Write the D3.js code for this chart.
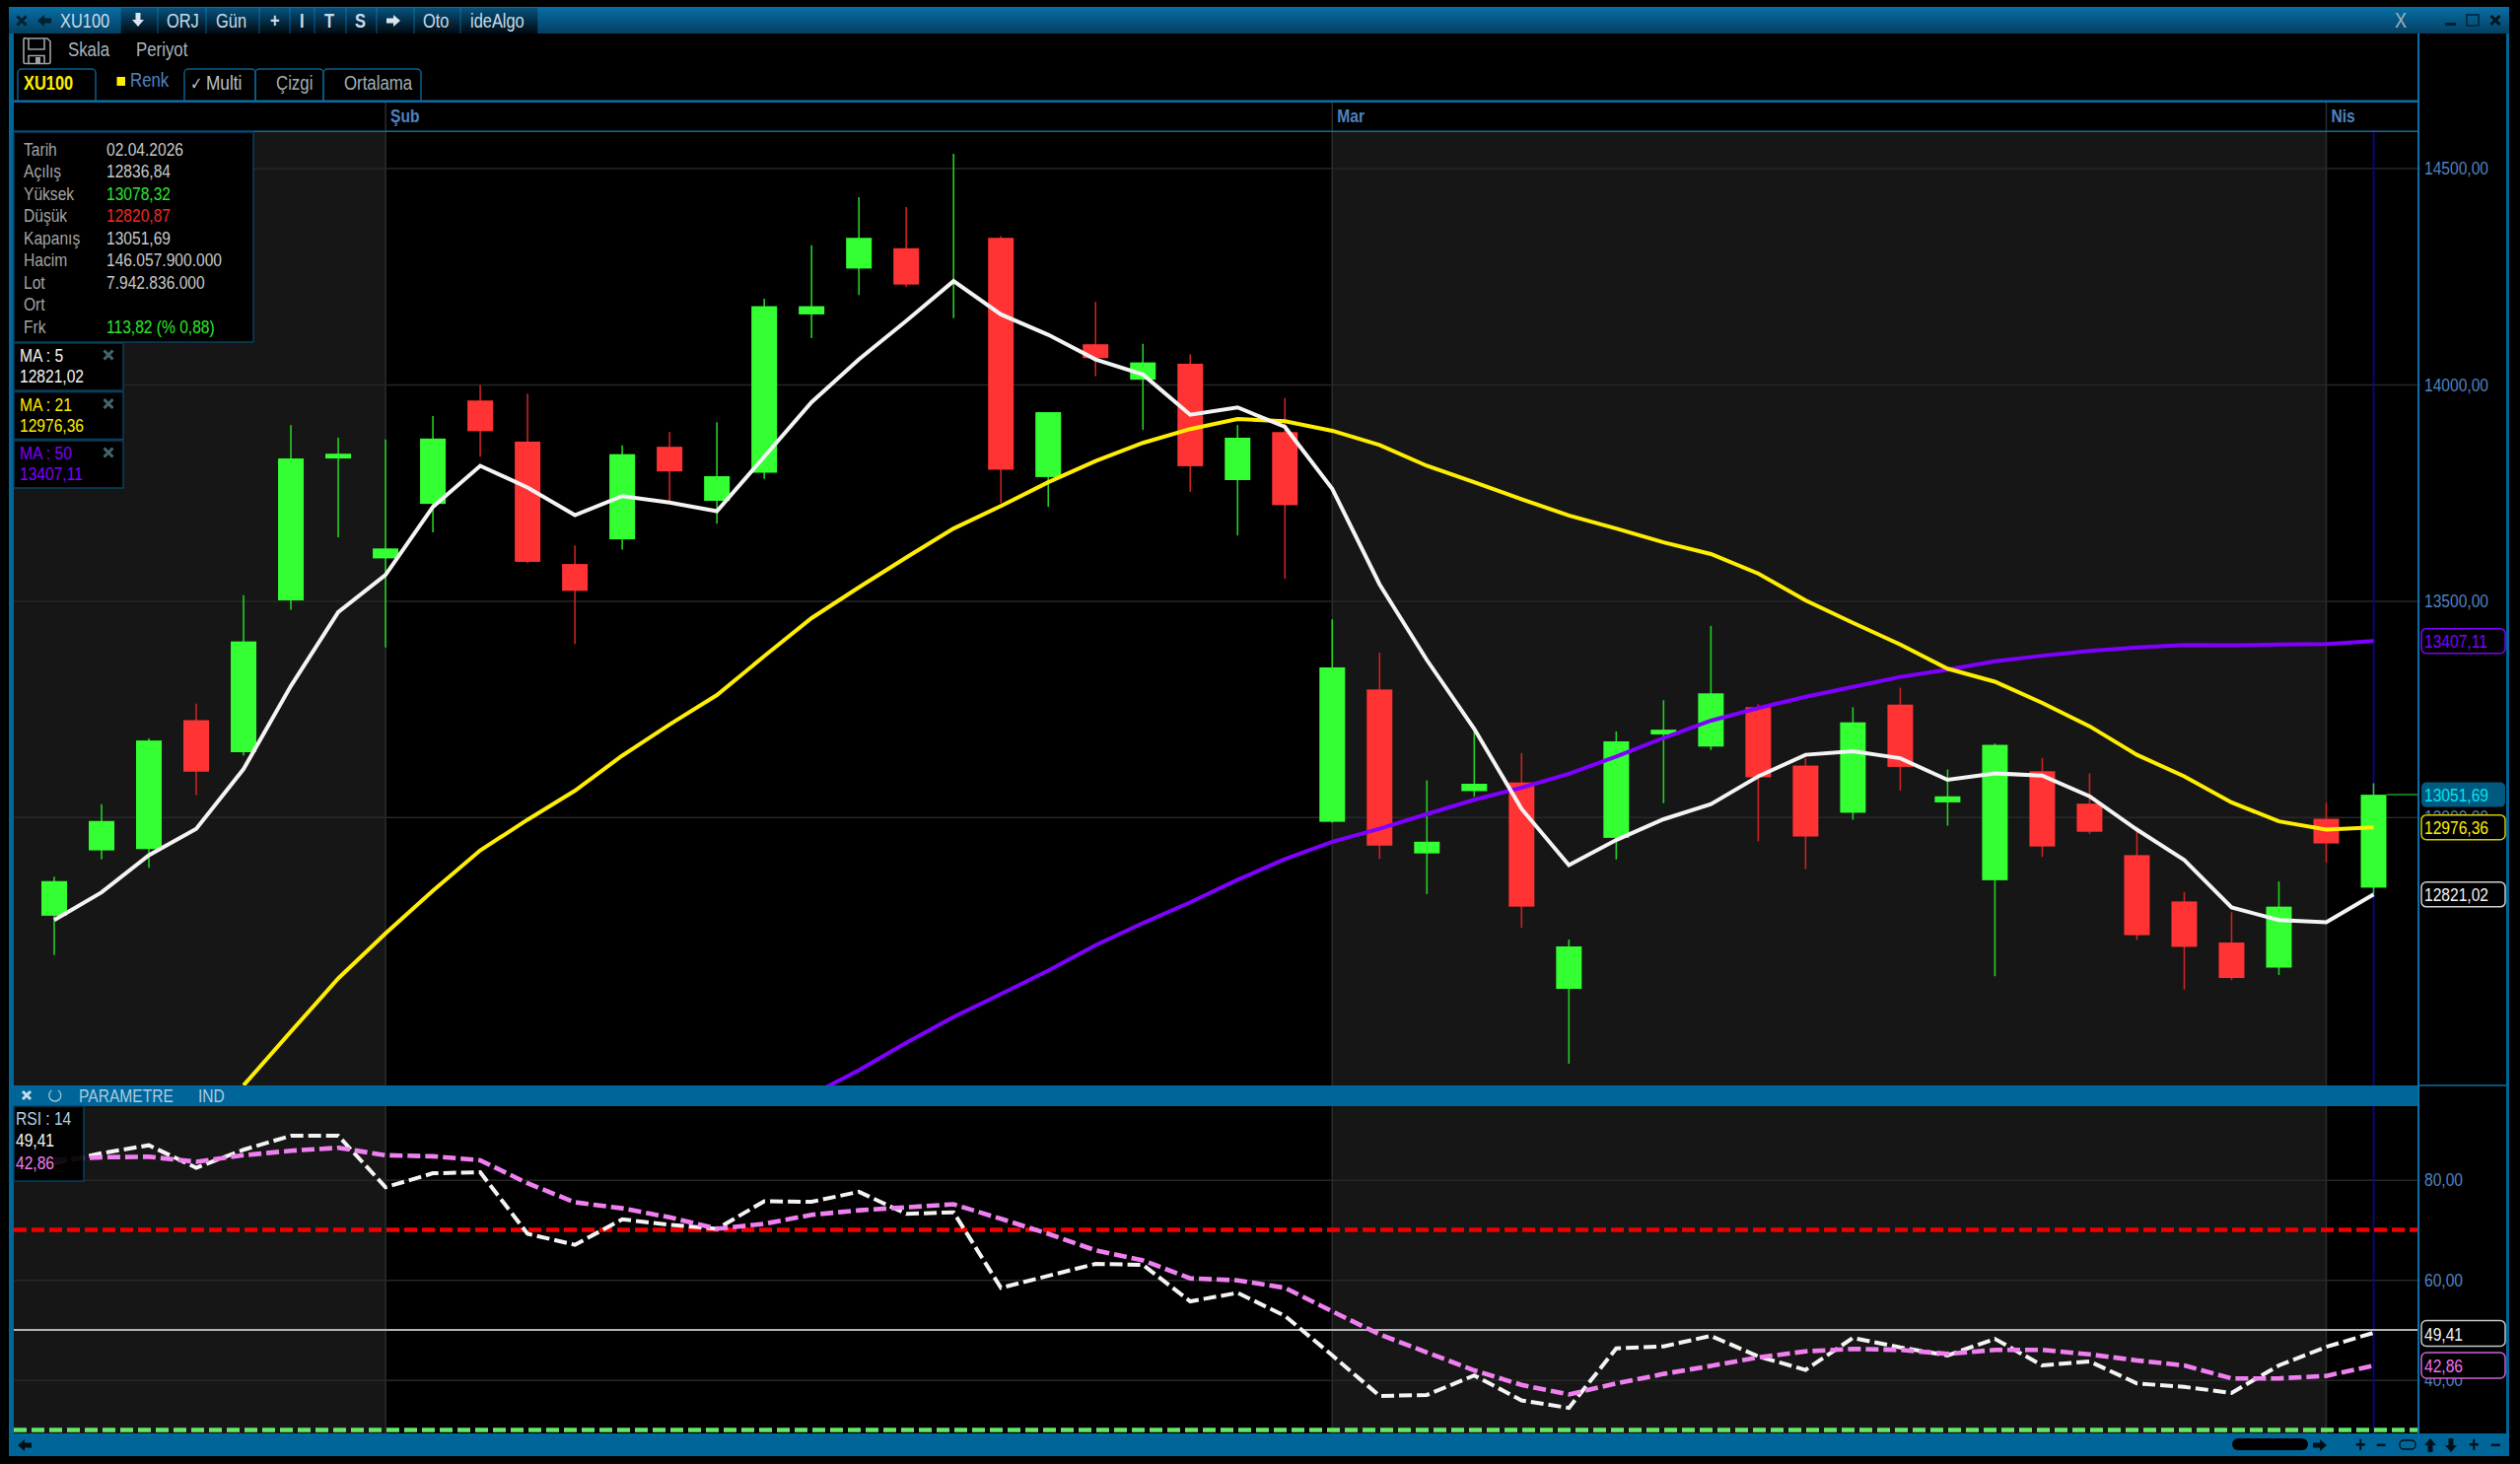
<!DOCTYPE html>
<html>
<head>
<meta charset="utf-8">
<script src="https://d3js.org/d3.v7.min.js"></script>
<style>
  html, body { margin: 0; background: #000; overflow: hidden; }
  svg { display: block; filter: blur(0.45px); }
  text { font-family: "Liberation Sans", sans-serif; font-size: 19px; }
</style>
</head>
<body>
<script>
// Data
const opens  = [12772,12923,12926,13224,13150,13501,13829,13598,13724,13963,13868,13585,13642,13856,13731,13796,14162,14268,14315,14262,14339,13786,14093,14011,14048,13779,13890,12989,13295,12916,13060,13080,12603,12952,13191,13163,13254,13119,13010,13260,13034,12854,13106,13031,12912,12805,12710,12652,12996,12836.84]
const highs  = [12862,13030,13182,13262,13513,13906,13877,13873,13927,13999,13979,13628,13859,13890,13913,14198,14322,14433,14410,14533,14343,13936,14191,14094,14070,13906,13969,13457,13380,13085,13204,13148,12717,13198,13270,13442,13261,13136,13254,13299,13110,13170,13137,13101,12978,12827,12780,12851,13033,13078.32]
const lows   = [12681,12902,12883,13051,13142,13479,13647,13392,13658,13833,13587,13400,13618,13731,13678,13782,14107,14207,14225,14153,13726,13717,14019,13895,13752,13651,13551,12987,12903,12822,13047,12744,12430,12902,13032,13155,12944,12880,12994,13061,12980,12632,12908,12961,12716,12601,12623,12635,12895,12820.87]
const closes = [12852,12991,13177,13105,13406,13829,13840,13621,13875,13892,13590,13523,13839,13799,13788,14181,14181,14339,14231,14262,13803,13936,14061,14051,13811,13877,13721,13346,12934,12943,13077,12793,12701,13175,13202,13286,13092,12955,13219,13116,13048,13167,12932,12966,12727,12700,12628,12793,12939,13051.69]

const ma5  = [12762,12826,12912,12973,13111,13303,13474,13560,13717,13812,13762,13698,13742,13727,13707,13833,13959,14058,14147,14239,14162,14115,14058,14023,13930,13947,13902,13759,13538,13363,13204,13019,12889,12947,12995,13030,13094,13144,13152,13136,13086,13101,13096,13048,12971,12901,12791,12762,12757,12821.02]
// first values of the two long averages are off the bottom of the panel, so they start late
const ma21 = [12380,12504,12627,12731,12830,12923,12994,13061,13142,13214,13282,13372,13460,13531,13600,13667,13719,13774,13823,13865,13897,13920,13915,13893,13860,13812,13774,13735,13697,13667,13635,13608,13563,13501,13449,13399,13343,13313,13264,13210,13144,13094,13034,12990,12971,12976.36]
const ma21Start = 4
const ma50 = [12358,12415,12478,12538,12591,12645,12704,12755,12803,12855,12903,12943,12973,13007,13040,13068,13100,13140,13183,13223,13252,13278,13301,13324,13341,13360,13373,13384,13392,13398,13397,13399,13400,13407.11]
const ma50Start = 16

const rsi       = [83.3,85.3,86.9,82.4,86,88.8,88.8,78.5,81.3,81.5,69.2,67,72.1,71,70.2,75.7,75.6,77.6,73.2,73.5,58.4,60.8,63.2,63,55.7,57.4,52.8,44.9,36.8,37,40.9,35.9,34.4,46.3,46.7,48.8,44.7,42,48.4,46.5,44.9,48.2,42.9,43.7,39.3,38.6,37.4,42.9,46.6,49.41]
const rsiSignal = [84,84.5,84.6,83.6,84.9,85.8,86.4,84.9,84.7,83.9,79.3,75.5,74.3,72.5,70.2,71.2,73,73.9,74.5,75.1,72.2,69.2,65.9,63.9,60.3,59.9,58.4,53.7,49.1,45.5,41.9,39,37.1,39.3,41.2,42.8,44.5,45.7,46.2,46,45.2,46,46,45.1,43.9,42.9,40.3,40.3,40.8,42.86]

const priceTicks = [14500,14000,13500,13000]
const rsiTicks = [80,60,40]
const monthStarts = [7,27,48]
const monthNames = ['Şub','Mar','Nis']

const infoLabels = ['Tarih','Açılış','Yüksek','Düşük','Kapanış','Hacim','Lot','Ort','Frk']
const infoValues = ['02.04.2026','12836,84','13078,32','12820,87','13051,69','146.057.900.000','7.942.836.000','','113,82 (% 0,88)']
const infoColors = ['#c8c8c8','#c8c8c8','#2ee62e','#f02828','#c8c8c8','#c8c8c8','#c8c8c8','#c8c8c8','#2ee62e']

const maNames  = ['MA : 5','MA : 21','MA : 50']
const maValues = [12821.02,12976.36,13407.11]
const maColors = ['#f4f4f4','#ffee00','#8000ff']

const titleButtons = ['ORJ','Gün','+','I','T','S','Oto','ideAlgo']
const titleButtonX = [169,219,274,304,329,360,429,477]
const titleSeps = [122,160,209,263,294,319,351,382,420,467,546]

// Dimensions
const W = 2556, H = 1485
const left = 14, chartRight = 2453, frameRight = 2542
const mainTop = 133, mainBottom = 1101, rsiTop = 1122, rsiBottom = 1454
const blue = '#006598', line = '#0a6ea8', axisBlue = '#4f83c0'

const svg = d3.select('body').append('svg').attr('width', W).attr('height', H)
const defs = svg.append('defs')

const titleGrad = defs.append('linearGradient').attr('id', 'titleGrad').attr('x2', 0).attr('y2', 1)
titleGrad.append('stop').attr('offset', 0).attr('stop-color', '#086fa6')
titleGrad.append('stop').attr('offset', 1).attr('stop-color', '#033f62')
const btnGrad = defs.append('linearGradient').attr('id', 'btnGrad').attr('x2', 0).attr('y2', 1)
btnGrad.append('stop').attr('offset', 0).attr('stop-color', '#06537f')
btnGrad.append('stop').attr('offset', 1).attr('stop-color', '#01090f')

defs.append('clipPath').attr('id', 'mainClip').append('rect')
  .attr('x', left).attr('y', mainTop).attr('width', chartRight - left).attr('height', mainBottom - mainTop)

// Scales
const x = d3.scaleLinear().domain([0, 49]).range([55, 2407.5])
const yPrice = d3.scaleLinear().domain([14500, 13000]).range([170.6, 828.8])
const yRsi = d3.scaleLinear().domain([80, 40]).range([1196.7, 1399.7])

// Frame
svg.append('rect').attr('x', 9).attr('y', 7).attr('width', 2536).attr('height', 1470).attr('fill', blue)
svg.append('rect').attr('x', left).attr('y', 34).attr('width', frameRight - left).attr('height', rsiBottom - 34).attr('fill', '#000')
svg.append('rect').attr('x', 9).attr('y', 7).attr('width', 2536).attr('height', 27).attr('fill', 'url(#titleGrad)')

// Month bands, every second month is grey
const bandEdges = [left, x(monthStarts[0]), x(monthStarts[1]), x(monthStarts[2]), chartRight]
const panels = [[mainTop, mainBottom], [rsiTop, rsiBottom]]
panels.forEach(([t, b]) => {
  svg.append('g').selectAll('rect')
    .data([0, 2])
    .join('rect')
    .attr('x', d => bandEdges[d])
    .attr('width', d => bandEdges[d + 1] - bandEdges[d])
    .attr('y', t)
    .attr('height', b - t)
    .attr('fill', '#161616')
})
svg.append('g').attr('stroke', '#2c2c2c').attr('stroke-width', 1.5)
  .selectAll('line')
  .data(monthStarts)
  .join('line')
  .attr('x1', d => x(d)).attr('x2', d => x(d))
  .attr('y1', 104).attr('y2', rsiBottom)

// Axes
const comma = d3.formatLocale({ decimal: ',', thousands: '.', grouping: [3], currency: ['', ''] }).format('.2f')
function axis(scale, ticks) {
  return g => {
    g.attr('transform', `translate(2455,0)`)
      .call(d3.axisRight(scale).tickValues(ticks).tickFormat(comma).tickSize(-(2455 - left)).tickPadding(4))
    g.select('.domain').remove()
    g.selectAll('.tick line').attr('stroke', '#272727').attr('stroke-width', 1.5)
    g.selectAll('.tick text').attr('fill', axisBlue)
      .style('font-size', '19px').style('font-family', '"Liberation Sans", sans-serif')
  }
}
svg.append('g').call(axis(yPrice, priceTicks))
svg.append('g').call(axis(yRsi, rsiTicks))

// Crosshair
svg.append('line').attr('x1', x(49)).attr('x2', x(49)).attr('y1', mainTop).attr('y2', rsiBottom)
  .attr('stroke', '#0000c8').attr('stroke-width', 1.5)

// Candles
const main = svg.append('g').attr('clip-path', 'url(#mainClip)')
const candles = d3.range(opens.length)
const isUp = i => closes[i] >= opens[i]
main.append('g').attr('stroke-width', 1.6)
  .selectAll('line')
  .data(candles)
  .join('line')
  .attr('x1', i => x(i)).attr('x2', i => x(i))
  .attr('y1', i => yPrice(highs[i])).attr('y2', i => yPrice(lows[i]))
  .attr('stroke', i => isUp(i) ? '#22d022' : '#cc2222')
main.append('g')
  .selectAll('rect')
  .data(candles)
  .join('rect')
  .attr('x', i => x(i) - 13)
  .attr('width', 26)
  .attr('y', i => yPrice(Math.max(opens[i], closes[i])))
  .attr('height', i => Math.abs(yPrice(opens[i]) - yPrice(closes[i])))
  .attr('fill', i => isUp(i) ? '#33ff33' : '#ff3333')

// Last price line
main.append('line').attr('x1', x(49) + 13).attr('x2', chartRight)
  .attr('y1', yPrice(closes[49])).attr('y2', yPrice(closes[49]))
  .attr('stroke', '#1f9a1f').attr('stroke-width', 1.5)

// Moving averages
function series(values, start, y) {
  return d3.line().x((d, i) => x(i + start)).y(d => y(d))(values)
}
main.append('path').attr('d', series(ma50, ma50Start, yPrice)).attr('fill', 'none').attr('stroke', '#8000ff').attr('stroke-width', 4)
main.append('path').attr('d', series(ma21, ma21Start, yPrice)).attr('fill', 'none').attr('stroke', '#ffee00').attr('stroke-width', 4)
main.append('path').attr('d', series(ma5, 0, yPrice)).attr('fill', 'none').attr('stroke', '#f4f4f4').attr('stroke-width', 4)

// RSI
svg.append('line').attr('x1', left).attr('x2', chartRight).attr('y1', yRsi(50)).attr('y2', yRsi(50))
  .attr('stroke', '#b4b4b4').attr('stroke-width', 2)
const levels = [[70, '#f00000'], [30, '#66e866']]
svg.append('g').selectAll('line')
  .data(levels)
  .join('line')
  .attr('x1', left).attr('x2', chartRight)
  .attr('y1', d => yRsi(d[0])).attr('y2', d => yRsi(d[0]))
  .attr('stroke', d => d[1])
  .attr('stroke-width', 4.6)
  .attr('stroke-dasharray', '13 5')
svg.append('path').attr('d', series(rsi, 0, yRsi)).attr('fill', 'none').attr('stroke', '#f4f4f4').attr('stroke-width', 4).attr('stroke-dasharray', '13 5')
svg.append('path').attr('d', series(rsiSignal, 0, yRsi)).attr('fill', 'none').attr('stroke', '#f080f0').attr('stroke-width', 4.6).attr('stroke-dasharray', '13 5')

// Panel lines
svg.append('rect').attr('x', left).attr('y', mainBottom).attr('width', chartRight - left).attr('height', rsiTop - mainBottom).attr('fill', blue)
svg.append('line').attr('x1', chartRight).attr('x2', frameRight).attr('y1', mainBottom).attr('y2', mainBottom).attr('stroke', line).attr('stroke-width', 1.5)
svg.append('line').attr('x1', chartRight).attr('x2', chartRight).attr('y1', 34).attr('y2', rsiBottom).attr('stroke', line).attr('stroke-width', 2)
svg.append('rect').attr('x', left).attr('y', 101.5).attr('width', chartRight - left).attr('height', 2.5).attr('fill', line)
svg.append('rect').attr('x', left).attr('y', 132.5).attr('width', chartRight - left).attr('height', 1.5).attr('fill', line)

// Helpers for the window furniture
const label = (t, px, py, fill, size, weight) => svg.append('text').text(t).attr('x', px).attr('y', py)
  .attr('fill', fill).style('font-size', (size || 19) + 'px').style('font-weight', weight || 'normal')
const arrow = (px, py, rot, fill) => svg.append('path').attr('d', 'M-2.5,-7h5v7h3.5l-6,7l-6,-7h3.5z')
  .attr('transform', `translate(${px},${py}) rotate(${rot})`).attr('fill', fill)
const cross = (px, py, r, col) => svg.append('path').attr('d', `M${px - r},${py - r}L${px + r},${py + r}M${px - r},${py + r}L${px + r},${py - r}`)
  .attr('stroke', col).attr('stroke-width', 3).attr('fill', 'none')

// Title bar
svg.append('g').selectAll('rect')
  .data(titleSeps.slice(0, -1))
  .join('rect')
  .attr('x', d => d + 0.7)
  .attr('width', (d, i) => titleSeps[i + 1] - d - 1.4)
  .attr('y', 8).attr('height', 26)
  .attr('fill', 'url(#btnGrad)')
cross(22, 21, 4.5, '#02202f')
arrow(45, 21, 90, '#02202f')
label('XU100', 61, 28, '#c9dcea', 20)
arrow(140, 20, 0, '#d8e4ee')
arrow(399, 21, -90, '#d8e4ee')
svg.append('g').selectAll('text')
  .data(titleButtons)
  .join('text')
  .text(d => d)
  .attr('x', (d, i) => titleButtonX[i])
  .attr('y', 28)
  .attr('fill', '#c9dcea')
  .style('font-size', '20px')
  .style('font-weight', d => d.length === 1 ? 'bold' : 'normal')

// Window buttons
label('X', 2429, 28, '#a4b0b8', 22)
svg.append('rect').attr('x', 2480).attr('y', 23).attr('width', 11).attr('height', 3).attr('fill', '#02202f')
svg.append('rect').attr('x', 2502).attr('y', 15).attr('width', 12).attr('height', 11).attr('fill', 'none').attr('stroke', '#02304c').attr('stroke-width', 2)
cross(2531, 20.5, 4.5, '#02141f')

// Second row
svg.append('g').call(g => {
  g.append('path').attr('d', 'M26,39h22l3,3v21a1.5,1.5 0 0 1 -1.5,1.5h-24a1.5,1.5 0 0 1 -1.5,-1.5v-23a1.5,1.5 0 0 1 1.5,-1.5z')
    .attr('fill', 'none').attr('stroke', '#9aa4aa').attr('stroke-width', 1.6)
  g.append('path').attr('d', 'M29,39v11h16v-11M29,64.5v-8h16v8').attr('fill', 'none').attr('stroke', '#9aa4aa').attr('stroke-width', 1.6)
  g.append('rect').attr('x', 36).attr('y', 58).attr('width', 5).attr('height', 6).attr('fill', '#9aa4aa')
})
label('Skala', 69, 57, '#aab4ba', 20.5)
label('Periyot', 138, 57, '#aab4ba', 20.5)

// Tabs
const tabEdges = [[18, 97], [187, 259], [259, 328], [328, 427]]
svg.append('g').selectAll('path')
  .data(tabEdges)
  .join('path')
  .attr('d', d => `M${d[0]},102V74a4,4 0 0 1 4,-4H${d[1] - 4}a4,4 0 0 1 4,4V102`)
  .attr('fill', 'none').attr('stroke', '#0a5f8f').attr('stroke-width', 1.5)
label('XU100', 24, 91, '#ffee00', 20, 'bold')
svg.append('rect').attr('x', 118.5).attr('y', 78).attr('width', 8.5).attr('height', 9).attr('fill', '#ffee00')
label('Renk', 132, 88, axisBlue, 20.5)
label('✓', 193, 91, '#b8c0c8', 18)
label('Multi', 209, 91, '#b8c0c8', 21)
label('Çizgi', 280, 91, '#a4aeb4', 20.5)
label('Ortalama', 349, 91, '#a4aeb4', 20.5)

// Month labels
svg.append('g').selectAll('text')
  .data(monthStarts)
  .join('text')
  .text((d, i) => monthNames[i])
  .attr('x', d => x(d) + 5)
  .attr('y', 124)
  .attr('fill', axisBlue)
  .style('font-size', '19px')
  .style('font-weight', 'bold')

// Info box
svg.append('rect').attr('x', left).attr('y', 134).attr('width', 243).attr('height', 213).attr('fill', '#000').attr('stroke', '#07405f').attr('stroke-width', 1.5)
const rowY = i => 157.5 + i * 22.5
svg.append('g').selectAll('text')
  .data(infoLabels)
  .join('text')
  .text(d => d)
  .attr('x', 24)
  .attr('y', (d, i) => rowY(i))
  .attr('fill', '#a4a4a4')
svg.append('g').selectAll('text')
  .data(infoValues)
  .join('text')
  .text(d => d)
  .attr('x', 108)
  .attr('y', (d, i) => rowY(i))
  .attr('fill', (d, i) => infoColors[i])

// MA boxes
maNames.forEach((name, i) => {
  const top = 348 + i * 49.5
  svg.append('rect').attr('x', left).attr('y', top).attr('width', 111).attr('height', 48).attr('fill', '#000').attr('stroke', '#07405f').attr('stroke-width', 1.5)
  label(name, 20, top + 19, maColors[i])
  label(comma(maValues[i]), 20, top + 40, maColors[i])
  cross(110, top + 12, 4.5, '#45656c')
})

// RSI header and legend
cross(27, 1111, 4, '#c4dcec')
svg.append('path').attr('d', 'M59,1106a6,6 0 1 1 -6.5,0').attr('fill', 'none').attr('stroke', '#9cc0d8').attr('stroke-width', 1.4)
label('PARAMETRE', 80, 1118, '#a9cbe2')
label('IND', 201, 1118, '#a9cbe2')
svg.append('rect').attr('x', left).attr('y', rsiTop).attr('width', 71).attr('height', 76).attr('fill', 'rgba(0,0,0,0.93)').attr('stroke', '#07405f').attr('stroke-width', 1.5)
label('RSI : 14', 16, 1141, '#b4d0e4')
label(comma(rsi[49]), 16, 1163, '#f4f4f4')
label(comma(rsiSignal[49]), 16, 1186, '#f080f0')

// Value boxes on the axis
const priceBoxes = [[13407.11, '#8000ff', '#000', '#8000ff'], [13051.69, 'none', '#005a80', '#00e5f0'], [12976.36, '#d8cc00', '#000', '#ffee00'], [12821.02, '#d0d0d0', '#000', '#f4f4f4']]
const boxes = svg.append('g')
boxes.selectAll('rect')
  .data(priceBoxes)
  .join('rect')
  .attr('x', 2456).attr('width', 85)
  .attr('y', d => yPrice(d[0]) - 12.5).attr('height', 25).attr('rx', 5)
  .attr('fill', d => d[2]).attr('stroke', d => d[1]).attr('stroke-width', 1.5)
boxes.selectAll('text')
  .data(priceBoxes)
  .join('text')
  .text(d => comma(d[0]))
  .attr('x', 2459).attr('y', d => yPrice(d[0]) + 7)
  .attr('fill', d => d[3])

const rsiBoxes = [[rsi[49], '#c8c8c8', '#f4f4f4', 1352.5], [rsiSignal[49], '#d060d8', '#f070f0', 1385]]
rsiBoxes.forEach(b => {
  svg.append('rect').attr('x', 2456).attr('width', 85).attr('y', b[3] - 13).attr('height', 26).attr('rx', 5)
    .attr('fill', '#000').attr('stroke', b[1]).attr('stroke-width', 1.5)
  label(comma(b[0]), 2459, b[3] + 7, b[2])
})

// Bottom bar
arrow(25, 1466, 90, '#021018')
svg.append('rect').attr('x', 2264).attr('y', 1459).attr('width', 77).attr('height', 12).attr('rx', 6).attr('fill', '#000')
arrow(2353, 1466, -90, '#021018')
label('+', 2389, 1473, '#021018', 22, 'bold')
label('−', 2410, 1473, '#021018', 22, 'bold')
svg.append('rect').attr('x', 2434).attr('y', 1461).attr('width', 16).attr('height', 9).attr('rx', 4).attr('fill', 'none').attr('stroke', '#021018').attr('stroke-width', 1.4)
arrow(2465, 1466, 180, '#021018')
arrow(2486, 1466, 0, '#021018')
label('+', 2504, 1473, '#021018', 22, 'bold')
label('−', 2526, 1473, '#021018', 22, 'bold')

// The platform's font is tall and narrow: squeeze every text to 82% of its width
svg.selectAll('text').each(function () {
  const len = this.getComputedTextLength()
  if (len > 0) d3.select(this).attr('textLength', len * 0.82).attr('lengthAdjust', 'spacingAndGlyphs')
})
</script>
</body>
</html>
